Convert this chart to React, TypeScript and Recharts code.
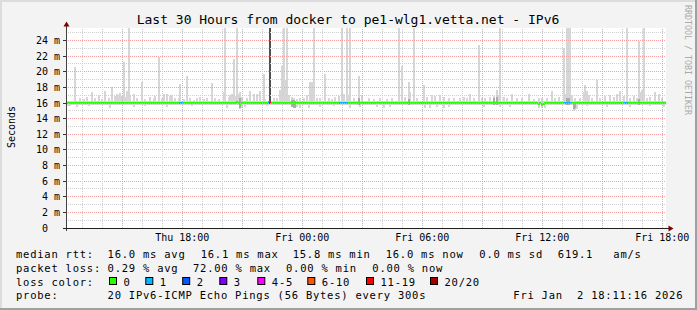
import { ComposedChart, Bar, Cell, XAxis, YAxis, CartesianGrid, ReferenceLine } from "recharts"

const FONT = "'DejaVu Sans Mono', monospace"

// 30 hours of 5 minute samples, the first one starting Thu 12:11:16
const HOURS = 30
const SAMPLES = 360
const STEP_H = HOURS / SAMPLES
const FIRST_FULL_HOUR = 0.8122 // Thu 13:00

const xLabels = ["Thu 18:00", "Fri 00:00", "Fri 06:00", "Fri 12:00", "Fri 18:00"]
const yTicks = [0, 2, 4, 6, 8, 10, 12, 14, 16, 18, 20, 22, 24]
const Y_MAX = 25.6

const MEDIAN = 16.0
const SMOKE_LOW = 15.8
const SMOKE_HIGH = 16.2

// [sample, slowest ping in ms]
const smokeTops: [number, number][] = [
 [5, 20.6], [8, 16.6], [10, 16.5], [12, 16.8], [15, 17.4], [17, 16.6], [19, 17.0], [21, 16.5], [23, 17.6],
 [25, 16.7], [27, 18.0], [29, 16.9], [30, 17.2], [31, 17.0], [32, 17.3], [33, 16.9], [34, 21.2], [35, 16.8],
 [36, 17.6], [37, 25.6], [38, 16.9], [40, 17.2], [42, 16.6], [45, 18.7], [47, 16.5], [50, 16.8], [52, 16.7],
 [53, 16.9], [55, 21.9], [57, 16.6], [58, 17.2], [60, 17.2], [62, 16.9], [63, 17.0], [65, 16.6], [67, 16.7],
 [68, 18.4], [70, 16.5], [72, 19.5], [74, 16.6], [76, 16.4], [78, 16.7], [80, 16.8], [82, 16.5], [84, 16.6],
 [87, 18.5], [89, 16.6], [91, 16.5], [94, 17.4], [95, 25.6], [97, 16.8], [98, 17.0], [99, 17.2], [100, 21.6],
 [101, 16.9], [102, 25.6], [103, 17.1], [104, 17.4], [105, 16.8], [108, 16.6], [110, 17.6], [112, 17.2],
 [114, 17.2], [116, 17.6], [118, 19.7], [119, 16.5], [121, 16.3], [122, 25.6], [124, 16.6], [126, 16.6],
 [128, 17.7], [129, 20.8], [130, 25.6], [131, 19.0], [132, 25.6], [133, 17.0], [135, 16.8], [136, 16.6],
 [138, 16.5], [140, 16.7], [142, 16.6], [144, 17.0], [146, 18.7], [147, 18.7], [148, 25.6], [150, 16.6],
 [152, 16.6], [155, 19.7], [157, 16.7], [159, 16.5], [161, 16.8], [163, 16.9], [165, 25.6], [166, 17.2],
 [168, 25.6], [169, 17.0], [170, 25.6], [172, 16.7], [175, 19.5], [177, 17.0], [181, 16.6], [184, 16.5],
 [188, 16.7], [192, 16.5], [195, 16.6], [199, 25.6], [201, 20.8], [203, 16.8], [205, 18.7], [206, 17.4],
 [208, 25.6], [210, 16.6], [214, 18.3], [216, 16.8], [219, 17.0], [221, 16.9], [224, 17.0], [226, 16.8],
 [229, 16.6], [232, 16.7], [236, 16.6], [238, 16.8], [240, 16.6], [242, 17.2], [244, 16.6], [247, 23.4],
 [249, 16.6], [251, 16.7], [254, 16.8], [256, 16.9], [258, 17.7], [259, 17.0], [260, 25.6], [262, 16.8],
 [264, 16.6], [267, 17.2], [270, 16.7], [273, 16.6], [277, 17.2], [280, 16.5], [283, 16.6], [285, 16.7],
 [288, 16.6], [291, 17.6], [293, 16.7], [295, 16.8], [298, 23.1], [299, 17.2], [300, 25.6], [301, 25.6],
 [302, 25.6], [303, 17.0], [305, 16.6], [308, 16.6], [310, 17.4], [311, 18.3], [312, 17.6], [313, 17.0],
 [315, 16.6], [318, 18.9], [320, 16.6], [323, 16.9], [326, 17.0], [328, 16.8], [330, 17.1], [332, 17.6],
 [334, 16.9], [336, 25.6], [338, 16.6], [340, 16.9], [342, 16.7], [343, 24.0], [344, 17.4], [345, 17.7],
 [346, 25.6], [348, 16.6], [350, 16.8], [353, 17.4], [355, 17.2], [357, 16.7],
]

// [sample, fastest ping in ms]
const smokeLows: [number, number][] = [
 [0, 15.6], [1, 15.6], [2, 15.6], [6, 15.5], [13, 15.6], [26, 15.4], [40, 15.5], [47, 15.6], [60, 15.5],
 [75, 15.6], [96, 15.4], [104, 15.2], [105, 15.4], [107, 15.5], [120, 15.6], [136, 15.4], [137, 15.3],
 [138, 15.5], [140, 15.3], [145, 15.4], [152, 15.5], [160, 15.6], [170, 15.4], [176, 15.5], [186, 15.5],
 [190, 15.4], [194, 15.5], [215, 15.4], [218, 15.3], [222, 15.5], [226, 15.4], [229, 15.5], [250, 15.5],
 [260, 15.5], [266, 15.5], [283, 15.4], [285, 15.3], [287, 15.4], [304, 15.0], [305, 15.1], [306, 15.2],
 [312, 15.6], [324, 15.5], [338, 15.5], [350, 15.6], [358, 15.5],
]

// [sample, low, high] where most of the pings sit
const denseSmoke: [number, number, number][] = [
 [104, 15.4, 16.6], [135, 15.5, 16.4], [136, 15.4, 16.4], [137, 15.4, 16.3], [175, 15.7, 16.6],
 [205, 15.7, 16.5], [256, 15.8, 16.7], [258, 15.7, 16.8], [300, 15.8, 16.6], [301, 15.8, 16.7],
 [304, 15.2, 15.9], [305, 15.3, 15.9], [343, 15.8, 16.5],
]

// [sample, low, high] for the sample with heavy loss
const lossColumn: [number, number, number][] = [[122, 16.0, 25.6]]

// [sample, median ms] where it leaves 16.0
const medianShifts: [number, number][] = [
 [102, 16.15], [104, 15.9], [121, 16.1], [136, 15.9], [283, 15.85], [285, 15.8], [286, 15.85],
]

// [sample, loss bucket]
const lossSamples: [number, number][] = [
 [68, 1], [69, 1], [121, 1], [122, 6], [164, 1], [165, 1], [166, 1], [167, 1], [168, 1],
 [299, 1], [300, 1], [301, 1], [302, 1], [335, 1], [336, 1],
]

const lossColors = ["#26ff00", "#00b8ff", "#0059ff", "#7e00ff", "#ff00ff", "#ff5500", "#ff0000", "#a10000"]
const lossLabels = ["0", "1", "2", "3", "4-5", "6-10", "11-19", "20/20"]

const rttStats = ["16.0 ms avg", "16.1 ms max", "15.8 ms min", "16.0 ms now", "0.0 ms sd", "619.1", "am/s"]
const lossStats = ["0.29 % avg", "72.00 % max", "0.00 % min", "0.00 % now"]
const probeText = "20 IPv6-ICMP Echo Pings (56 Bytes) every 300s"
const stampText = "Fri Jan  2 18:11:16 2026"

const topMap = new Map(smokeTops)
const lowMap = new Map(smokeLows)
const medMap = new Map(medianShifts)
const lossMap = new Map(lossSamples)
const denseMap = new Map(denseSmoke.map(([i, lo, hi]) => [i, [lo, hi]]))
const columnMap = new Map(lossColumn.map(([i, lo, hi]) => [i, [lo, hi]]))

const data = Array.from({ length: SAMPLES }, (_, i) => {
 const m = medMap.get(i) ?? MEDIAN
 return {
 t: (i + 0.5) * STEP_H,
 smoke: [lowMap.get(i) ?? SMOKE_LOW, topMap.get(i) ?? SMOKE_HIGH],
 dense: denseMap.get(i) ?? null,
 column: columnMap.get(i) ?? null,
 median: [m - 0.15, m + 0.15],
 loss: lossMap.get(i) ?? 0,
 }
})

const labelHours = xLabels.map((_, k) => FIRST_FULL_HOUR + 5 + k * 6)
const gridHours = Array.from({ length: 30 }, (_, k) => FIRST_FULL_HOUR + k)
const gridValues = Array.from({ length: 25 }, (_, k) => k + 1)

const MINOR = "#cfcfcf"
const MAJOR = "#f7a0a0"

// legend columns (px)
const rttX = [107.6, 200.7, 292.7, 385.7, 479.3, 557.8, 613.3]
const lossX = [107.6, 193, 286, 372.3]
const swatchX = [109, 145.3, 182.2, 219.3, 257.3, 307.3, 366, 430]
const rowY = [258, 271.8, 285.5, 299.3]
const legendText = { fontSize: 10.5, letterSpacing: 0.76 }

export default function App() {
 return (
 <div style={{ position: "absolute", left: 0, top: 0, width: 697, height: 310, background: "#f3f3f3", overflow: "hidden" }}>
 <div style={{ position: "absolute", left: 0, top: 0, shapeRendering: "crispEdges" }}>
 <ComposedChart
 width={697}
 height={310}
 data={data}
 margin={{ top: 28, right: 31, bottom: 62, left: 26 }}
 barCategoryGap={0}
 barGap={0}
 >
 <CartesianGrid xAxisId="main" fill="#ffffff" horizontal={false} vertical={false} />
 <XAxis
 xAxisId="main"
 dataKey="t"
 type="number"
 domain={[0, HOURS]}
 allowDataOverflow
 ticks={labelHours}
 interval={0}
 tickFormatter={(v: number) => xLabels[Math.round((v - labelHours[0]) / 6)]}
 height={20}
 axisLine={false}
 tickLine={false}
 tickSize={0}
 tickMargin={6}
 tick={{ fontFamily: FONT, fontSize: 10, fill: "#000" }}
 />
 <XAxis xAxisId="dense" dataKey="t" type="number" domain={[0, HOURS]} allowDataOverflow hide height={0} />
 <XAxis xAxisId="column" dataKey="t" type="number" domain={[0, HOURS]} allowDataOverflow hide height={0} />
 <XAxis xAxisId="median" dataKey="t" type="number" domain={[0, HOURS]} allowDataOverflow hide height={0} />
 <YAxis
 domain={[0, Y_MAX]}
 allowDataOverflow
 ticks={yTicks}
 interval={0}
 tickFormatter={(v: number) => (v === 0 ? "0\u00a0\u00a0" : `${v} m`)}
 width={40}
 axisLine={false}
 tickLine={{ stroke: "#333" }}
 tickSize={3}
 tickMargin={3}
 tick={{ fontFamily: FONT, fontSize: 10, fill: "#000" }}
 />
 {gridValues.map((v) => (
 <ReferenceLine key={`gy${v}`} xAxisId="main" y={v} stroke={v % 2 === 0 ? MAJOR : MINOR} strokeDasharray="1 1" />
 ))}
 {gridHours.map((h, k) => (
 <ReferenceLine key={`gx${k}`} xAxisId="main" x={h} stroke={k % 3 === 2 ? MAJOR : MINOR} strokeDasharray="1 1" />
 ))}
 <Bar xAxisId="main" dataKey="smoke" fill="#d6d6d6" isAnimationActive={false} />
 <Bar xAxisId="dense" dataKey="dense" fill="#ababab" isAnimationActive={false} />
 <Bar xAxisId="column" dataKey="column" fill="#505050" isAnimationActive={false} />
 <Bar xAxisId="median" dataKey="median" isAnimationActive={false}>
 {data.map((d, i) => (
 <Cell key={`m${i}`} fill={lossColors[d.loss]} />
 ))}
 </Bar>
 </ComposedChart>
 </div>
 <svg width={697} height={310} style={{ position: "absolute", left: 0, top: 0, pointerEvents: "none" }} fontFamily={FONT}>
 <rect x={0} y={0} width={697} height={2} fill="#dcdcdc" />
 <rect x={0} y={0} width={2} height={310} fill="#dcdcdc" />
 <rect x={0} y={308} width={697} height={2} fill="#a0a0a0" />
 <rect x={695} y={0} width={2} height={310} fill="#a0a0a0" />

 <text x={348} y={24} textAnchor="middle" fontSize={13} fill="#000">
 Last 30 Hours from docker to pe1-wlg1.vetta.net - IPv6
 </text>
 <text transform="translate(15,127) rotate(-90)" textAnchor="middle" fontSize={10} fill="#000">
 Seconds
 </text>
 <text transform="translate(684.5,60) rotate(90)" textAnchor="middle" fontSize={8.3} fill="#aaaaaa">
 RRDTOOL / TOBI OETIKER
 </text>

 <line x1={66.5} y1={25} x2={66.5} y2={231} stroke="#404040" strokeWidth={1} shapeRendering="crispEdges" />
 <line x1={63} y1={228.5} x2={670} y2={228.5} stroke="#202020" strokeWidth={1} shapeRendering="crispEdges" />
 <polygon points="66.5,21.5 63.5,26.5 69.5,26.5" fill="#800000" />
 <polygon points="673.5,228.5 668.5,225.5 668.5,231.5" fill="#800000" />

 <g fill="#000" style={legendText}>
 <text x={16} y={rowY[0]}>median rtt:</text>
 {rttStats.map((s, k) => (
 <text key={`r${k}`} x={rttX[k]} y={rowY[0]}>{s}</text>
 ))}
 <text x={16} y={rowY[1]}>packet loss:</text>
 {lossStats.map((s, k) => (
 <text key={`l${k}`} x={lossX[k]} y={rowY[1]}>{s}</text>
 ))}
 <text x={16} y={rowY[2]}>loss color:</text>
 {lossLabels.map((s, k) => (
 <g key={`c${k}`}>
 <rect x={swatchX[k] + 0.5} y={277.5} width={7} height={7} fill={lossColors[k]} stroke="#000" strokeWidth={1} />
 <text x={swatchX[k] + 14.5} y={rowY[2]}>{s}</text>
 </g>
 ))}
 <text x={16} y={rowY[3]}>probe:</text>
 <text x={107.6} y={rowY[3]}>{probeText}</text>
 <text x={513.3} y={rowY[3]} xmlSpace="preserve">{stampText}</text>
 </g>
 </svg>
 </div>
 )
}
